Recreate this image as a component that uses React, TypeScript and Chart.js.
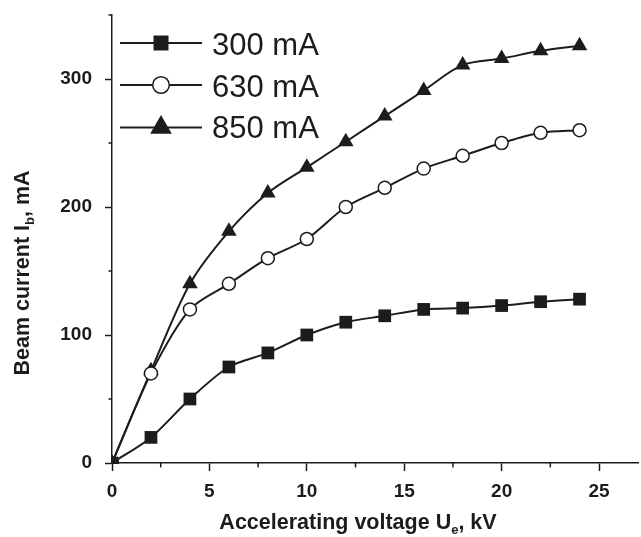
import { useEffect, useRef } from "react";
import { Chart, registerables } from "chart.js";

Chart.register(...registerables);

// ---- data ----
const voltageKV = [0, 2, 4, 6, 8, 10, 12, 14, 16, 18, 20, 22, 24];
const current300 = [0, 20, 50, 75, 86, 100, 110, 115, 120, 121, 123, 126, 128];
const current630 = [0, 70, 120, 140, 160, 175, 200, 215, 230, 240, 250, 258, 260];
const current850 = [0, 72, 140, 181, 211, 231, 251, 271, 291, 311, 316, 322, 326];
const seriesLabels = ["300 mA", "630 mA", "850 mA"];
const xMajorTicks = [0, 5, 10, 15, 20, 25];
const xMinorTicks = [2.5, 7.5, 12.5, 17.5, 22.5];
const yMajorTicks = [0, 100, 200, 300];
const yMinorTicks = [50, 150, 250, 350];

const INK = "#1e1b1c";
const FONT = "'Liberation Sans', Arial, Helvetica, sans-serif";

const pointStyles = ["rect", "circle", "triangle"] as const;
const pointRadii = [9, 6.5, 9];
const pointFills = [INK, "#ffffff", INK];

function toXY(ys: number[]) {
  return voltageKV.map((x, i) => ({ x, y: ys[i] }));
}

function drawMarker(ctx: CanvasRenderingContext2D, style: string, x: number, y: number, r: number, fill: string) {
  ctx.save();
  ctx.fillStyle = fill;
  ctx.strokeStyle = INK;
  ctx.lineWidth = 1.5;
  ctx.beginPath();
  if (style === "rect") {
    const s = r * Math.SQRT1_2;
    ctx.rect(x - s, y - s, 2 * s, 2 * s);
    ctx.fill();
  } else if (style === "circle") {
    ctx.arc(x, y, r, 0, Math.PI * 2);
    ctx.fill();
    ctx.stroke();
  } else {
    const h = r * 1.5;
    const w = r * Math.sqrt(3);
    ctx.moveTo(x, y - r);
    ctx.lineTo(x + w / 2, y - r + h);
    ctx.lineTo(x - w / 2, y - r + h);
    ctx.closePath();
    ctx.fill();
  }
  ctx.restore();
}

function drawSubText(
  ctx: CanvasRenderingContext2D,
  parts: { t: string; sub?: boolean }[],
  cx: number,
  baseY: number,
  size: number,
  subSize: number
) {
  const main = `bold ${size}px ${FONT}`;
  const small = `bold ${subSize}px ${FONT}`;
  let total = 0;
  for (const p of parts) {
    ctx.font = p.sub ? small : main;
    total += ctx.measureText(p.t).width;
  }
  let x = cx - total / 2;
  ctx.textAlign = "left";
  ctx.textBaseline = "alphabetic";
  ctx.fillStyle = INK;
  for (const p of parts) {
    ctx.font = p.sub ? small : main;
    ctx.fillText(p.t, x, baseY + (p.sub ? 5 : 0));
    x += ctx.measureText(p.t).width;
  }
}

const decorPlugin = {
  id: "decor",
  afterDraw(chart: any) {
    const ctx: CanvasRenderingContext2D = chart.ctx;
    const xs = chart.scales.x;
    const ys = chart.scales.y;
    const area = chart.chartArea;

    // minor ticks
    ctx.save();
    ctx.strokeStyle = INK;
    ctx.lineWidth = 1.5;
    ctx.beginPath();
    for (const v of xMinorTicks) {
      const px = xs.getPixelForValue(v);
      ctx.moveTo(px, area.bottom);
      ctx.lineTo(px, area.bottom + 4.5);
    }
    for (const v of yMinorTicks) {
      const py = ys.getPixelForValue(v);
      ctx.moveTo(area.left, py);
      ctx.lineTo(area.left - 3.5, py);
    }
    ctx.stroke();
    ctx.restore();

    // axis titles
    ctx.save();
    drawSubText(
      ctx,
      [{ t: "Accelerating voltage U" }, { t: "e", sub: true }, { t: ", kV" }],
      358,
      529,
      21.5,
      13
    );
    ctx.restore();

    ctx.save();
    ctx.translate(29, 273);
    ctx.rotate(-Math.PI / 2);
    drawSubText(
      ctx,
      [{ t: "Beam current I" }, { t: "b", sub: true }, { t: ", mA" }],
      0,
      0,
      21.5,
      13
    );
    ctx.restore();

    // legend
    const legendRadii = [10.6, 8.3, 12.5];
    const rowY = [43, 85, 127.5];
    const baseY = [55, 96.7, 138.3];
    chart.data.datasets.forEach((ds: any, i: number) => {
      ctx.save();
      ctx.strokeStyle = INK;
      ctx.lineWidth = 2;
      ctx.beginPath();
      ctx.moveTo(120, rowY[i]);
      ctx.lineTo(202, rowY[i]);
      ctx.stroke();
      ctx.restore();
      drawMarker(ctx, pointStyles[i], 161, rowY[i], legendRadii[i], pointFills[i]);
      ctx.save();
      ctx.font = `31px ${FONT}`;
      ctx.fillStyle = INK;
      ctx.textAlign = "left";
      ctx.textBaseline = "alphabetic";
      ctx.fillText(ds.label, 212, baseY[i]);
      ctx.restore();
    });
  },
};

export default function App() {
  const ref = useRef<HTMLCanvasElement | null>(null);

  useEffect(() => {
    if (!ref.current) return;
    const series = [current300, current630, current850];
    const chart = new Chart(ref.current, {
      type: "line",
      data: {
        datasets: series.map((s, i) => ({
          label: seriesLabels[i],
          data: toXY(s),
          borderColor: INK,
          borderWidth: 2,
          tension: 0.3,
          pointStyle: pointStyles[i],
          pointRadius: pointRadii[i],
          pointBackgroundColor: pointFills[i],
          pointBorderColor: INK,
          pointBorderWidth: i === 1 ? 1.5 : 0,
          clip: 1,
        })) as any,
      },
      options: {
        animation: false,
        responsive: false,
        maintainAspectRatio: false,
        events: [],
        layout: { autoPadding: false, padding: { top: 15, right: 3, left: 0, bottom: 0 } },
        plugins: {
          legend: { display: false },
          tooltip: { enabled: false },
          title: { display: false },
        },
        scales: {
          x: {
            type: "linear",
            min: 0,
            max: 27,
            afterBuildTicks: (s: any) => {
              s.ticks = xMajorTicks.map((v) => ({ value: v }));
            },
            afterFit: (s: any) => {
              s.height = 74;
              s.paddingLeft = 0;
              s.paddingRight = 0;
            },
            ticks: {
              color: INK,
              font: { family: FONT, size: 19, weight: "bold" },
              padding: 9,
              maxRotation: 0,
              autoSkip: false,
            },
            grid: {
              display: true,
              drawOnChartArea: false,
              drawTicks: true,
              tickLength: 8,
              tickColor: INK,
              tickWidth: 1.5,
            },
            border: { display: true, color: INK, width: 1.5 },
          },
          y: {
            type: "linear",
            min: 0,
            max: 350,
            afterBuildTicks: (s: any) => {
              s.ticks = yMajorTicks.map((v) => ({ value: v }));
            },
            afterFit: (s: any) => {
              s.width = 112;
              s.paddingTop = 0;
              s.paddingBottom = 0;
            },
            ticks: {
              color: INK,
              font: { family: FONT, size: 19, weight: "bold" },
              padding: 13,
              autoSkip: false,
            },
            grid: {
              display: true,
              drawOnChartArea: false,
              drawTicks: true,
              tickLength: 7,
              tickColor: INK,
              tickWidth: 1.5,
            },
            border: { display: true, color: INK, width: 1.5 },
          },
        },
      },
      plugins: [decorPlugin],
    });
    return () => chart.destroy();
  }, []);

  return (
    <div style={{ position: "fixed", left: 0, top: 0, width: 641, height: 537, background: "#ffffff" }}>
      <canvas ref={ref} width={641} height={537} style={{ width: 641, height: 537, display: "block" }} />
    </div>
  );
}
